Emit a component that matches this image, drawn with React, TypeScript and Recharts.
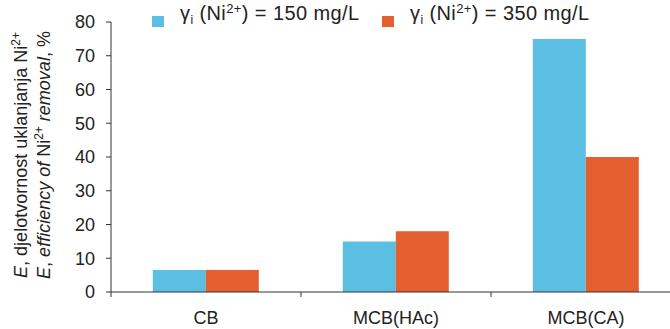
import { BarChart, Bar, XAxis, YAxis, Legend } from 'recharts';

const categories = ['CB', 'MCB(HAc)', 'MCB(CA)'];
const conc150 = [6.5, 15, 75];
const conc350 = [6.5, 18, 40];
const yTicks = [0, 10, 20, 30, 40, 50, 60, 70, 80];
const legendLabels = ['150 mg/L', '350 mg/L'];

const data = categories.map((name, i) => ({ name, c150: conc150[i], c350: conc350[i] }));

const BLUE = '#5bbfe3';
const ORANGE = '#e35f2f';
const AXIS = '#333';
const FONT = '"Liberation Sans", Arial, sans-serif';

function CatTick(props: any) {
  const { x, y, payload } = props;
  const off = payload.offset ?? 0;
  return (
    <g>
      <line x1={x - off} x2={x - off} y1={y} y2={y + 5} stroke={AXIS} strokeWidth={1} />
      <text x={x} y={y + 32} textAnchor="middle" fontSize={18} fill="#222" fontFamily={FONT}>
        {payload.value}
      </text>
    </g>
  );
}

function YLabel() {
  const cy = 155;
  return (
    <g fontFamily={FONT} fontSize={18} fill="#222">
      <text x={0} y={0} textAnchor="middle" transform={`translate(27, ${cy}) rotate(-90)`}>
        <tspan fontStyle="italic">E</tspan>
        <tspan>, djelotvornost uklanjanja Ni</tspan>
        <tspan fontSize={12} dy={-7}>2+</tspan>
      </text>
      <text x={0} y={0} textAnchor="middle" transform={`translate(50, ${cy}) rotate(-90)`}>
        <tspan fontStyle="italic">E</tspan>
        <tspan>, </tspan>
        <tspan fontStyle="italic">efficiency of</tspan>
        <tspan> Ni</tspan>
        <tspan fontSize={12} dy={-7}>2+</tspan>
        <tspan dy={7} fontStyle="italic"> removal</tspan>
        <tspan>, %</tspan>
      </text>
    </g>
  );
}

function LegendItem({ color, label, left }: { color: string; label: string; left: number }) {
  return (
    <div style={{ position: 'absolute', left, top: 0, display: 'flex', alignItems: 'flex-end', height: 31 }}>
      <span style={{ display: 'inline-block', width: 12, height: 11, background: color, marginRight: 16, marginBottom: 4 }} />
      <span style={{ lineHeight: '22px', letterSpacing: 0.4 }}>
        γ<sub style={{ fontSize: 12, verticalAlign: -4 }}>i</sub> (Ni<sup style={{ fontSize: 13, verticalAlign: 7 }}>2+</sup>) = {label}
      </span>
    </div>
  );
}

function LegendContent() {
  return (
    <div style={{ position: 'relative', fontFamily: FONT, fontSize: 20, color: '#222', whiteSpace: 'nowrap', height: 31 }}>
      <LegendItem color={BLUE} label={legendLabels[0]} left={0} />
      <LegendItem color={ORANGE} label={legendLabels[1]} left={230} />
    </div>
  );
}

export default function App() {
  return (
    <div style={{ position: 'fixed', left: 0, top: 0, width: 670, height: 329, overflow: 'hidden', background: '#fff' }}>
      <BarChart
        width={700}
        height={329}
        data={data}
        margin={{ top: 22, right: 19, bottom: 0, left: 0 }}
        barGap={0}
        barCategoryGap="22%"
      >
        <XAxis
          dataKey="name"
          height={37}
          axisLine={{ stroke: AXIS }}
          tickLine={false}
          tickSize={0}
          tickMargin={0}
          tick={<CatTick />}
          interval={0}
        />
        <YAxis
          width={111}
          domain={[0, 80]}
          ticks={yTicks}
          axisLine={{ stroke: AXIS }}
          tickLine={{ stroke: AXIS }}
          tickSize={5}
          tickMargin={11}
          tick={{ fontSize: 18, fill: '#222', fontFamily: FONT }}
          label={<YLabel />}
        />
        <Legend
          verticalAlign="middle"
          content={<LegendContent />}
          wrapperStyle={{ top: 0, left: 152, width: 500, height: 31 }}
        />
        <Bar dataKey="c150" fill={BLUE} isAnimationActive={false} />
        <Bar dataKey="c350" fill={ORANGE} isAnimationActive={false} />
      </BarChart>
    </div>
  );
}
